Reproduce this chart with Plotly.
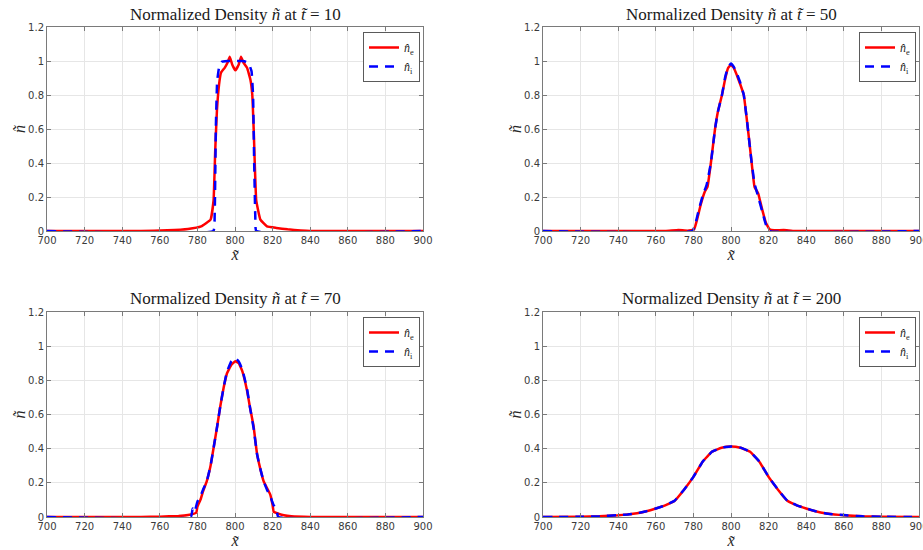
import plotly.graph_objects as go

# ---------------- data ----------------
times = [10, 50, 70, 200]

# t = 10
e10_x = [700, 750, 764, 775, 782, 787, 788.6, 789.5, 790.4, 791.5, 792.5, 794.5, 796, 797.2, 798.5, 800.2, 802, 803.2, 804.5, 806.4, 808.2, 809.2, 810, 811.3, 813.5, 817, 822, 828, 835, 840, 900]
e10_y = [0, 0, 0.004, 0.012, 0.027, 0.067, 0.18, 0.48, 0.71, 0.86, 0.93, 0.96, 0.99, 1.025, 0.98, 0.945, 0.98, 1.025, 0.99, 0.96, 0.89, 0.8, 0.58, 0.18, 0.067, 0.027, 0.018, 0.01, 0.003, 0, 0]
i10_x = [700, 788.5, 789.2, 789.8, 790.5, 791.5, 793, 796, 800, 804, 806, 807.5, 808.8, 809.6, 810.2, 810.8, 811.3, 900]
i10_y = [0, 0, 0.1, 0.6, 0.88, 0.96, 0.995, 1.0, 1.0, 1.0, 0.995, 0.98, 0.94, 0.8, 0.4, 0.08, 0, 0]

# t = 50
e50_x = [700, 765, 772, 777, 780.4, 782, 784, 786, 787.5, 789.3, 791.5, 793, 795.2, 797, 798.5, 800, 801.5, 803, 805, 806.8, 809, 810.8, 812.5, 814.5, 816.5, 818.5, 820.5, 823, 828, 834, 900]
e50_y = [0, 0, 0.006, 0.002, 0.01, 0.07, 0.16, 0.23, 0.26, 0.4, 0.6, 0.7, 0.8, 0.9, 0.96, 0.978, 0.96, 0.92, 0.86, 0.8, 0.6, 0.42, 0.26, 0.22, 0.13, 0.05, 0.01, 0.004, 0.006, 0, 0]
i50_x = [700, 779.5, 781, 783, 785, 787, 789.3, 791.5, 793, 795.2, 797, 798.5, 800, 801.5, 803, 805, 806.8, 809, 810.8, 812.5, 814.5, 816.5, 818.5, 820.5, 900]
i50_y = [0, 0, 0.04, 0.13, 0.21, 0.27, 0.4, 0.6, 0.7, 0.8, 0.91, 0.965, 0.985, 0.965, 0.93, 0.87, 0.8, 0.6, 0.42, 0.28, 0.2, 0.12, 0.04, 0, 0]

# t = 70
e70_x = [700, 750, 760, 770, 775, 779.4, 780, 781.6, 783, 785, 787, 788.7, 790.5, 792.2, 794, 795.7, 798, 800.2, 802, 804, 806.4, 808, 809.9, 811.7, 813.5, 815.2, 817, 818.8, 820, 820.6, 823, 826, 830, 840, 900]
e70_y = [0, 0, 0.002, 0.006, 0.012, 0.025, 0.06, 0.1, 0.15, 0.21, 0.3, 0.41, 0.53, 0.65, 0.76, 0.84, 0.89, 0.912, 0.9, 0.85, 0.74, 0.64, 0.53, 0.37, 0.28, 0.21, 0.17, 0.13, 0.07, 0.03, 0.02, 0.01, 0.004, 0, 0]
i70_x = [700, 776.5, 777.5, 778.5, 780, 781.6, 783, 785, 787, 788.7, 790.5, 792.2, 794, 795.7, 798, 800, 802, 804, 806.4, 808, 809.9, 811.7, 813.5, 815.2, 817, 818.8, 820.5, 822, 823, 900]
i70_y = [0, 0, 0.05, 0.03, 0.09, 0.12, 0.16, 0.21, 0.3, 0.41, 0.53, 0.65, 0.76, 0.85, 0.91, 0.932, 0.91, 0.86, 0.75, 0.64, 0.52, 0.37, 0.28, 0.21, 0.16, 0.12, 0.07, 0.05, 0, 0]

# t = 200
e200_x = [700, 720, 730, 740, 745, 750, 755, 760, 765, 770, 775, 780, 785, 790, 795, 800, 805, 810, 815, 820, 825, 830, 835, 840, 845, 850, 855, 860, 870, 880, 900]
e200_y = [0, 0.001, 0.004, 0.01, 0.015, 0.022, 0.034, 0.05, 0.068, 0.095, 0.16, 0.235, 0.325, 0.383, 0.405, 0.412, 0.405, 0.383, 0.325, 0.235, 0.16, 0.095, 0.068, 0.05, 0.034, 0.022, 0.015, 0.01, 0.004, 0.001, 0]
i200_x = [700, 720, 730, 740, 745, 750, 755, 760, 765, 770, 775, 780, 785, 790, 795, 800, 805, 810, 815, 820, 825, 830, 835, 840, 845, 850, 855, 860, 870, 880, 900]
i200_y = [0, 0.001, 0.004, 0.011, 0.015, 0.022, 0.034, 0.05, 0.068, 0.095, 0.16, 0.235, 0.325, 0.383, 0.406, 0.413, 0.406, 0.383, 0.325, 0.235, 0.16, 0.095, 0.068, 0.05, 0.034, 0.022, 0.015, 0.011, 0.004, 0.001, 0]

x_ticks = [700, 720, 740, 760, 780, 800, 820, 840, 860, 880, 900]
y_ticks = [0, 0.2, 0.4, 0.6, 0.8, 1, 1.2]
y_ticklabels = ["0", "0.2", "0.4", "0.6", "0.8", "1", "1.2"]

electron = [(e10_x, e10_y), (e50_x, e50_y), (e70_x, e70_y), (e200_x, e200_y)]
ion = [(i10_x, i10_y), (i50_x, i50_y), (i70_x, i70_y), (i200_x, i200_y)]

# ---------------- layout ----------------
W, H = 923, 550
# pixel boxes: (left, right, top, bottom)
boxes = [(47, 423, 27, 231), (543, 919, 27, 231), (47, 423, 312, 517), (543, 919, 312, 517)]

fig = go.Figure()
SERIF = "Liberation Serif, Times New Roman, serif"
TICKF = dict(family="DejaVu Sans, sans-serif", size=10, color="#3a3a3a")

layout = dict(width=W, height=H, margin=dict(l=0, r=0, t=0, b=0, autoexpand=False),
              template="none",
              plot_bgcolor="white", paper_bgcolor="white", annotations=[])

for k in range(4):
    l, r, t, b = boxes[k]
    xa = "xaxis" if k == 0 else f"xaxis{k+1}"
    ya = "yaxis" if k == 0 else f"yaxis{k+1}"
    xr = "x" if k == 0 else f"x{k+1}"
    yr = "y" if k == 0 else f"y{k+1}"
    lg = "legend" if k == 0 else f"legend{k+1}"
    ex, ey = electron[k]
    ix, iy = ion[k]
    fig.add_trace(go.Scatter(x=ex, y=ey, mode="lines", name="<i>n̂</i><sub>e</sub>",
                             line=dict(color="#ff0000", width=2.5, shape="spline", smoothing=0.3),
                             xaxis=xr, yaxis=yr, legend=lg, showlegend=True))
    fig.add_trace(go.Scatter(x=ix, y=iy, mode="lines", name="<i>n̂</i><sub>i</sub>",
                             line=dict(color="#0000ff", width=2.5, dash="9px,7px", shape="spline", smoothing=0.3),
                             xaxis=xr, yaxis=yr, legend=lg, showlegend=True))
    layout[xa] = dict(domain=[l / W, r / W], range=[700, 900], tickvals=x_ticks,
                      showgrid=True, gridcolor="#e6e6e6", gridwidth=1, zeroline=False,
                      showline=True, linecolor="#7a7a7a", linewidth=1, mirror="allticks",
                      ticks="inside", ticklen=4, tickcolor="#7a7a7a", tickfont=TICKF,
                      ticklabeloverflow="allow",
                      anchor=yr, fixedrange=True, automargin=False,
                      title=dict(text="<i>x̃</i>", font=dict(family=SERIF, size=16, color="#262626"), standoff=3))
    layout[ya] = dict(domain=[1 - b / H, 1 - t / H], range=[0, 1.2], tickvals=y_ticks, ticktext=y_ticklabels,
                      showgrid=True, gridcolor="#e6e6e6", gridwidth=1, zeroline=False,
                      showline=True, linecolor="#7a7a7a", linewidth=1, mirror="allticks",
                      ticks="inside", ticklen=4, tickcolor="#7a7a7a", tickfont=TICKF,
                      ticklabeloverflow="allow",
                      anchor=xr, fixedrange=True, automargin=False)
    layout[lg] = dict(x=(r - 3) / W, y=1 - (t + 5) / H, xanchor="right", yanchor="top",
                      bgcolor="white", bordercolor="#5a5a5a", borderwidth=1,
                      font=dict(family=SERIF, size=12, color="#262626"),
                      itemwidth=30, tracegroupgap=0, traceorder="normal")
    layout["annotations"].append(dict(
        text=f"Normalized Density <i>ñ</i> at <i>t̃</i> = {times[k]}",
        x=(l + r) / 2 / W, y=1 - (t - 13) / H, xref="paper", yref="paper",
        xanchor="center", yanchor="middle", showarrow=False,
        font=dict(family=SERIF, size=17, color="#1a1a1a")))
    # y-axis label
    layout["annotations"].append(dict(
        text="<i>ñ</i>", x=(l - 28) / W, y=1 - ((t + b) / 2) / H, xref="paper", yref="paper",
        xanchor="center", yanchor="middle", showarrow=False, textangle=-90,
        font=dict(family=SERIF, size=16, color="#262626")))

fig.update_layout(**layout)
fig.write_html("out.html", config={"displayModeBar": False, "staticPlot": True},
               post_script="document.body.style.margin='0';document.body.style.overflow='hidden';")
